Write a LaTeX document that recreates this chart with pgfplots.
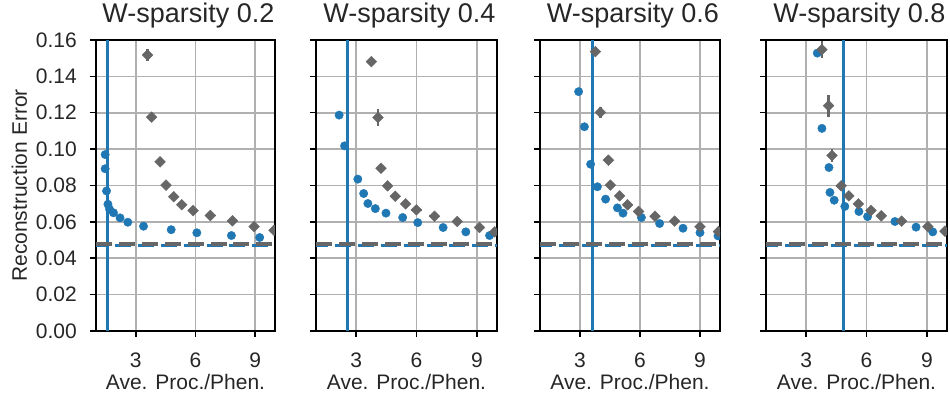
\documentclass[border=0pt]{standalone}
\usepackage{fontspec}
\setmainfont{Liberation Sans}
\usepackage{pgfplots}
\pgfplotsset{compat=1.18}
\definecolor{tblue}{HTML}{1F77B4}
\definecolor{dgray}{HTML}{666666}
\definecolor{gridc}{HTML}{B0B0B0}
\definecolor{txt}{HTML}{262626}
\newcommand{\ttl}[1]{\fontsize{27}{32}\selectfont #1}
\pgfplotsset{
 panel/.style={
  scale only axis, height=291pt, xmin=1, xmax=10, ymin=0, ymax=0.16,
  anchor=south west,
  xtick={3,6,9}, ytick={0,0.02,0.04,0.06,0.08,0.10,0.12,0.14,0.16},
  grid=major, major grid style={gridc, line width=1.6pt},
  axis line style={black, line width=1.5pt},
  tick pos=left, tick align=outside, major tick length=6pt, tick style={black, line width=1.5pt},
  every tick label/.append style={font=\fontsize{21}{25}\selectfont, text=txt},
  /pgf/number format/assume math mode=true,
  scaled y ticks=false,
  xticklabel style={anchor=base, inner sep=0pt, yshift=-31pt},
  yticklabel style={anchor=east, inner sep=0pt, xshift=-13pt, /pgf/number format/.cd, fixed, fixed zerofill, precision=2},
  title style={at={(axis description cs:0.5,1.0412)}, anchor=base, inner sep=0pt, xshift=3pt, text=txt},
  xlabel={Ave. Proc./Phen.},
  xlabel style={at={(axis description cs:0.5,-0.2027)}, anchor=base, inner sep=0pt, font=\fontsize{21}{25}\selectfont, text=txt},
  clip marker paths=true,
 },
 bluepts/.style={only marks, mark=*, mark size=4.2pt, color=tblue, mark options={draw=tblue, fill=tblue}},
 graypts/.style={only marks, mark=square*, mark size=3.8pt, color=dgray, mark options={rotate=45, draw=dgray, fill=dgray},
   error bars/.cd, x dir=both, x explicit, y dir=both, y explicit, error mark=none,
   error bar style={line width=2.5pt, dgray}},
 vline/.style={tblue, line width=3pt},
 bdash/.style={tblue, line width=2.5pt, dash pattern=on 16pt off 6.9pt, dash phase=4pt},
 gdash/.style={dgray, line width=4pt, dash pattern=on 16pt off 6.9pt},
}
\begin{document}
\begin{tikzpicture}
\useasboundingbox (-96pt,-67pt) rectangle (854pt,331pt);
% Panel 1
\begin{axis}[panel, width=179pt, at={(0pt,0pt)}, title={\ttl{W-sparsity 0.2}},
  ylabel={Reconstruction Error},
  ylabel style={at={(axis description cs:-0.3855,0.5)}, anchor=base, inner sep=0pt, font=\fontsize{21}{25}\selectfont, text=txt}]
\addplot[vline] coordinates {(1.6,0) (1.6,0.16)};
\addplot[bdash] coordinates {(1,0.0470) (10,0.0470)};
\addplot[gdash] coordinates {(1,0.0481) (10,0.0481)};
\addplot[bluepts] table {
x y
1.46 0.0970
1.46 0.0892
1.53 0.0770
1.60 0.0697
1.68 0.0670
1.88 0.0650
2.21 0.0622
2.60 0.0598
3.39 0.0576
4.78 0.0557
6.07 0.0540
7.81 0.0525
9.23 0.0514
};
\addplot[graypts] table[x=x, y=y, x error=ex, y error=ey] {
x y ex ey
3.59 0.1517 0 0.0035
3.80 0.1176 0 0.001
4.22 0.0930 0 0
4.52 0.0802 0 0
4.91 0.0738 0 0
5.31 0.0694 0 0
5.88 0.0662 0 0
6.75 0.0635 0 0
7.86 0.0606 0 0
8.95 0.0574 0 0
9.95 0.0554 0 0
};
\end{axis}
% Panel 2
\begin{axis}[panel, width=181pt, at={(220pt,0pt)}, title={\ttl{W-sparsity 0.4}}, yticklabels={}]
\addplot[vline] coordinates {(2.58,0) (2.58,0.16)};
\addplot[bdash] coordinates {(1,0.0470) (10,0.0470)};
\addplot[gdash] coordinates {(1,0.0481) (10,0.0481)};
\addplot[bluepts] table {
x y
2.15 0.1187
2.42 0.1018
3.08 0.0835
3.37 0.0756
3.58 0.0701
3.95 0.0673
4.48 0.0648
5.31 0.0624
6.06 0.0596
7.32 0.0569
8.45 0.0545
9.63 0.0525
};
\addplot[graypts] table[x=x, y=y, x error=ex, y error=ey] {
x y ex ey
3.75 0.1481 0 0.0012
4.08 0.1174 0 0.0045
4.23 0.0895 0 0
4.56 0.0798 0 0
4.94 0.0741 0 0
5.46 0.0699 0 0
5.99 0.0666 0.27 0
6.89 0.0631 0.25 0
8.02 0.0602 0.2 0
9.13 0.0569 0 0
9.88 0.0545 0 0
};
\end{axis}
% Panel 3
\begin{axis}[panel, width=180pt, at={(444pt,0pt)}, title={\ttl{W-sparsity 0.6}}, yticklabels={}]
\addplot[vline] coordinates {(3.64,0) (3.64,0.16)};
\addplot[bdash] coordinates {(1,0.0470) (10,0.0470)};
\addplot[gdash] coordinates {(1,0.0481) (10,0.0481)};
\addplot[bluepts] table {
x y
2.93 0.1316
3.22 0.1123
3.53 0.0917
3.87 0.0793
4.28 0.0725
4.87 0.0677
5.15 0.0648
6.07 0.0624
6.98 0.0591
8.15 0.0565
9.00 0.0541
9.90 0.0523
};
\addplot[graypts] table[x=x, y=y, x error=ex, y error=ey] {
x y ex ey
3.77 0.1536 0.08 0.001
4.02 0.1202 0 0.003
4.42 0.0939 0 0
4.52 0.0802 0 0
4.98 0.0743 0 0
5.38 0.0694 0 0
5.93 0.0657 0.1 0
6.75 0.0631 0.1 0
7.73 0.0604 0.1 0
9.00 0.0573 0.15 0
9.92 0.0547 0 0
};
\end{axis}
% Panel 4
\begin{axis}[panel, width=181pt, at={(670pt,0pt)}, title={\ttl{W-sparsity 0.8}}, yticklabels={}]
\addplot[vline] coordinates {(4.84,0) (4.84,0.16)};
\addplot[bdash] coordinates {(1,0.0470) (10,0.0470)};
\addplot[gdash] coordinates {(1,0.0481) (10,0.0481)};
\addplot[bluepts] table {
x y
3.55 0.1528
3.78 0.1114
4.13 0.0899
4.18 0.0762
4.39 0.0719
4.92 0.0685
5.62 0.0657
6.05 0.0629
7.41 0.0602
8.46 0.0571
9.29 0.0545
};
\addplot[graypts] table[x=x, y=y, x error=ex, y error=ey] {
x y ex ey
3.78 0.1547 0 0.0045
4.11 0.1239 0 0.006
4.28 0.0965 0 0.0035
4.74 0.0798 0 0
5.12 0.0743 0 0
5.59 0.0699 0 0
6.22 0.0662 0 0.0015
6.73 0.0633 0 0
7.74 0.0604 0.15 0
9.05 0.0574 0.15 0
9.90 0.0549 0 0
};
\end{axis}
\end{tikzpicture}
\end{document}
